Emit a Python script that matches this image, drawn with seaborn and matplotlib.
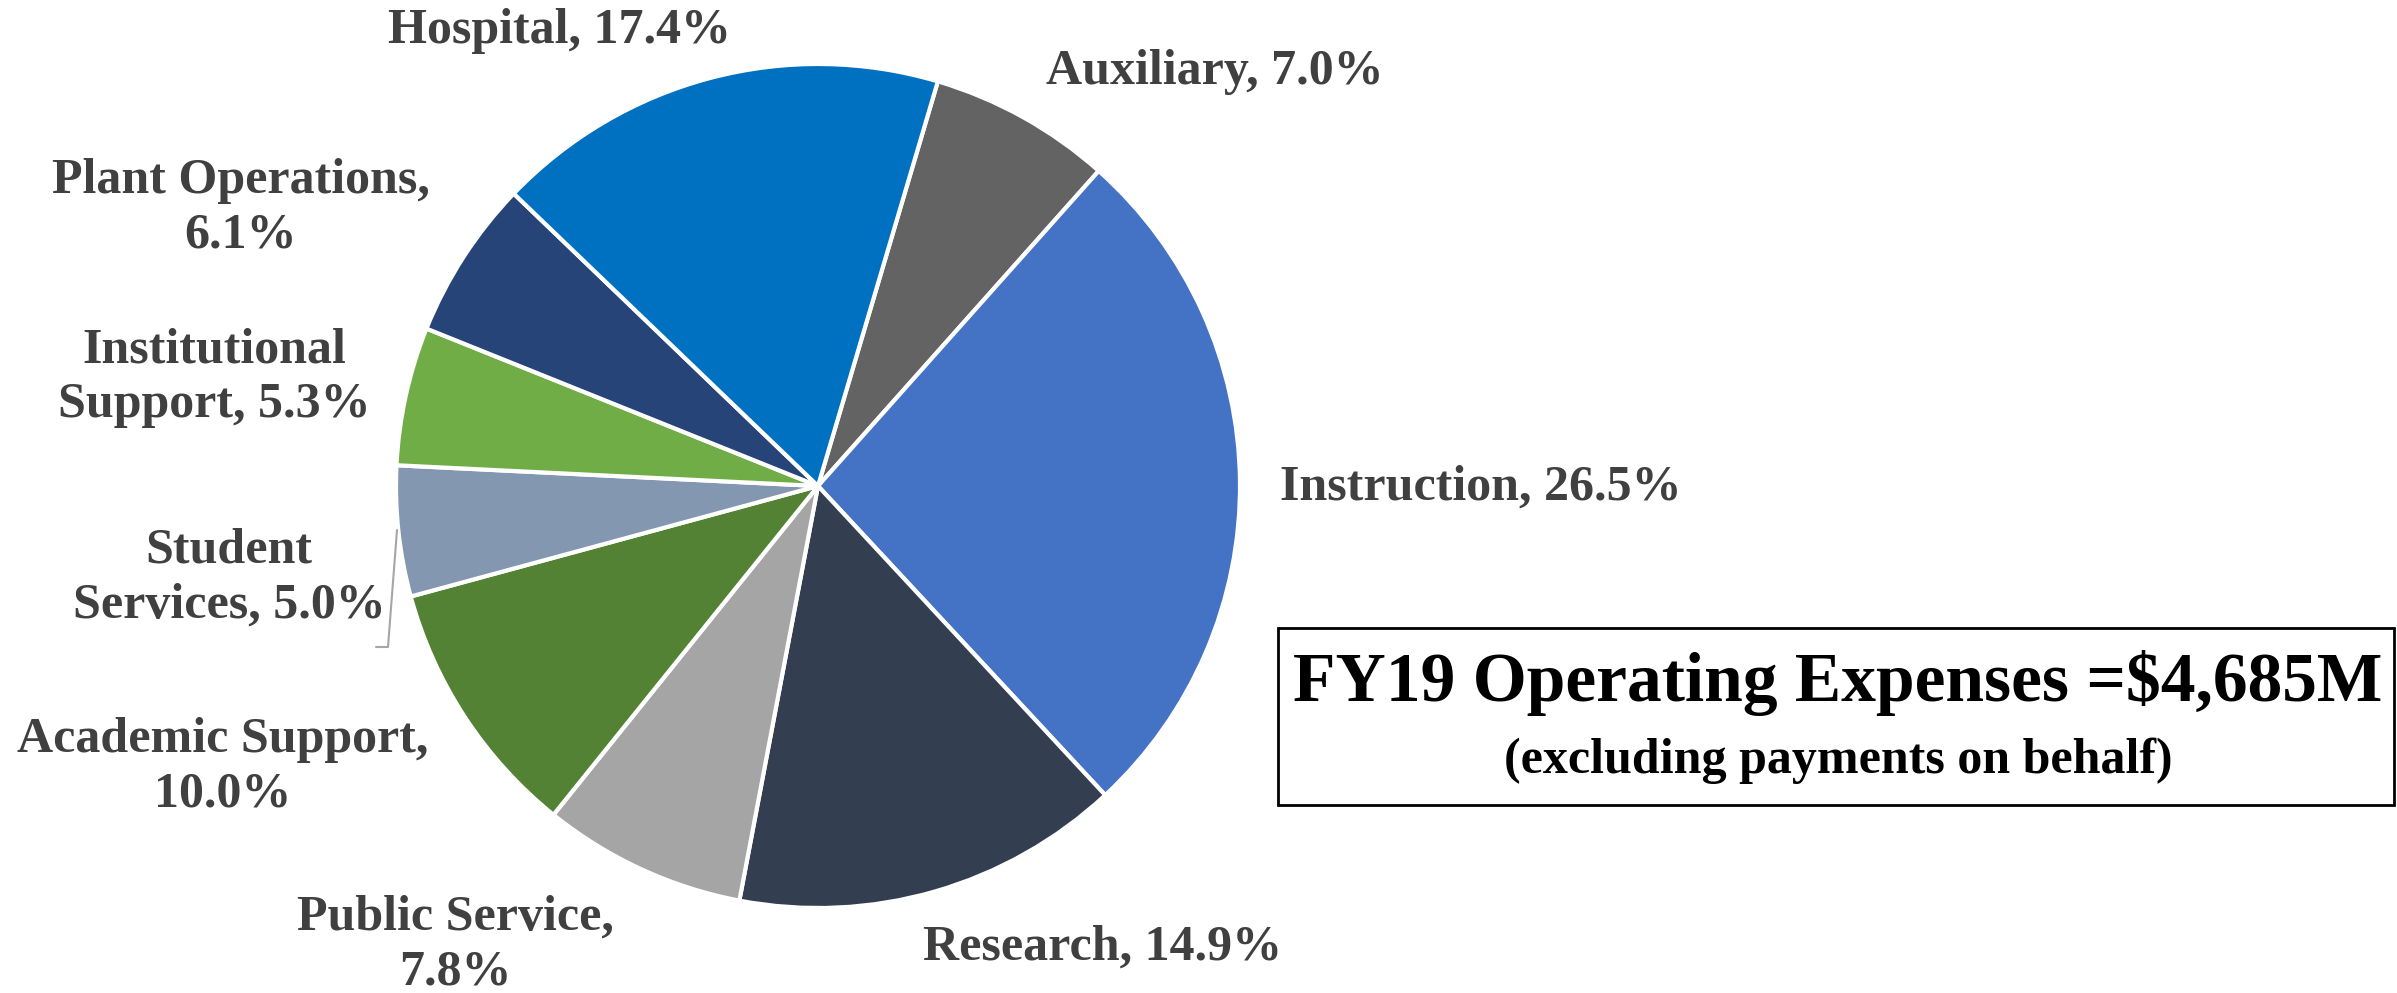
import matplotlib
matplotlib.use("Agg")
import matplotlib.pyplot as plt
import matplotlib.patches as mpatches
import seaborn as sns

# slices, clockwise starting after the Hospital/Auxiliary boundary
categories = ["Auxiliary", "Instruction", "Research", "Public Service",
              "Academic Support", "Student Services", "Institutional Support",
              "Plant Operations", "Hospital"]
shares = [7.0, 26.5, 14.9, 7.8, 10.0, 5.0, 5.3, 6.1, 17.4]
slice_colors = ["#636363", "#4472C4", "#333F50", "#A5A5A5", "#548235",
                "#8497B0", "#70AD47", "#264478", "#0070C0"]
label_text = ["Auxiliary, 7.0%", "Instruction, 26.5%", "Research, 14.9%",
              "Public Service,\n7.8%", "Academic Support,\n10.0%",
              "Student\nServices, 5.0%", "Institutional\nSupport, 5.3%",
              "Plant Operations,\n6.1%", "Hospital, 17.4%"]
title_main = "FY19 Operating Expenses =$4,685M"
title_sub = "(excluding payments on behalf)"

sns.set_theme(style="white")
plt.rcParams['font.family'] = ['Liberation Serif', 'DejaVu Serif']

W, H = 2397, 993
fig = plt.figure(figsize=(W / 100, H / 100), dpi=100)
ax = fig.add_axes([0, 0, 1, 1])

palette = sns.color_palette(slice_colors)
ax.pie(shares, colors=palette, startangle=73.5, counterclock=False,
       center=(818, H - 486), radius=422,
       wedgeprops=dict(edgecolor="white", linewidth=3))
ax.set_xlim(0, W)
ax.set_ylim(0, H)
ax.set_aspect("equal")
ax.axis("off")

# label positions (pixel coords, image y downwards)
label_pos = [(1215, 72), (1481, 488), (1103, 948), (455, 945), (223, 767),
             (229, 578), (214, 378), (241, 208), (560, 31)]
for txt, (x, y) in zip(label_text, label_pos):
    ax.text(x, H - y, txt, ha="center", va="center", multialignment="center",
            fontsize=36, fontweight="bold", color="#404040", linespacing=1.25)

# leader line for Student Services
ax.plot([397, 388, 376], [H - 530, H - 647, H - 647], color="#A6A6A6", lw=1.5)

# title box
ax.add_patch(mpatches.Rectangle((1278, H - 805), 1116, 177, fill=False,
                                edgecolor="black", linewidth=2))
ax.text(1838, H - 683, title_main, ha="center", va="center",
        fontsize=50, fontweight="bold", color="black")
ax.text(1838, H - 761, title_sub, ha="center", va="center",
        fontsize=36, fontweight="bold", color="black")

fig.savefig("out.png", dpi=100)
